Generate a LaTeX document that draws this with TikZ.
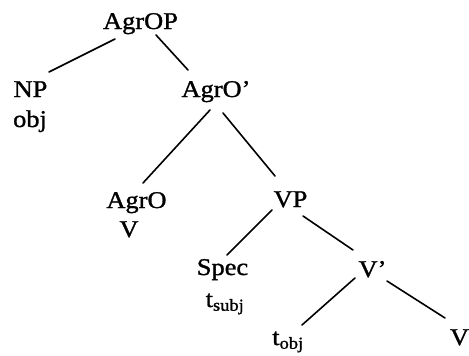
\documentclass[tikz,border=0pt]{standalone}
\usepackage{fontspec}
\setmainfont{Liberation Serif}[FakeStretch=1.1,FakeBold=1.2]
\begin{document}
\begin{tikzpicture}[x=1pt,y=-1pt,
  lbl/.style={anchor=base,inner sep=0pt,font=\fontsize{24}{28}\selectfont},
  edge/.style={line width=1.6pt,line cap=round}]
\useasboundingbox (0,0) rectangle (469,356);
\fill[white] (0,0) rectangle (469,356);
\begin{scope}
\clip (0,0) rectangle (469,356);
\node[lbl] (agrop) at (140.5,29) {AgrOP};
\node[lbl] (np) at (30.5,97) {NP};
\node[lbl] (obj) at (30,127) {obj};
\node[lbl] (agrobar) at (216,97) {AgrO'};
\node[lbl] (agro) at (136.5,208) {AgrO};
\node[lbl] (v1) at (129,237) {V};
\node[lbl] (vp) at (290.5,207) {VP};
\node[lbl] (spec) at (222.5,275) {Spec};
\node[lbl] (tsubj) at (225,307) {t\textsubscript{subj}};
\node[lbl] (vbar) at (372.5,277) {V'};
\node[lbl] (tobj) at (288,345) {t\textsubscript{obj}};
\node[lbl] (v2) at (459.5,345) {V};
\end{scope}
\draw[edge] ([shift={(-25.5,10)}]agrop.base) -- ([shift={(18.5,-25)}]np.base);
\draw[edge] ([shift={(15.5,6)}]agrop.base) -- ([shift={(-28,-27)}]agrobar.base);
\draw[edge] ([shift={(-6,13)}]agrobar.base) -- ([shift={(6.5,-25)}]agro.base);
\draw[edge] ([shift={(7,16)}]agrobar.base) -- ([shift={(-15.5,-31)}]vp.base);
\draw[edge] ([shift={(-18.5,3)}]vp.base) -- ([shift={(4.5,-20)}]spec.base);
\draw[edge] ([shift={(12.5,9)}]vp.base) -- ([shift={(-19.5,-27)}]vbar.base);
\draw[edge] ([shift={(-17.5,1)}]vbar.base) -- ([shift={(14,-20)}]tobj.base);
\draw[edge] ([shift={(14.5,4)}]vbar.base) -- ([shift={(-14.5,-27)}]v2.base);
\end{tikzpicture}
\end{document}
